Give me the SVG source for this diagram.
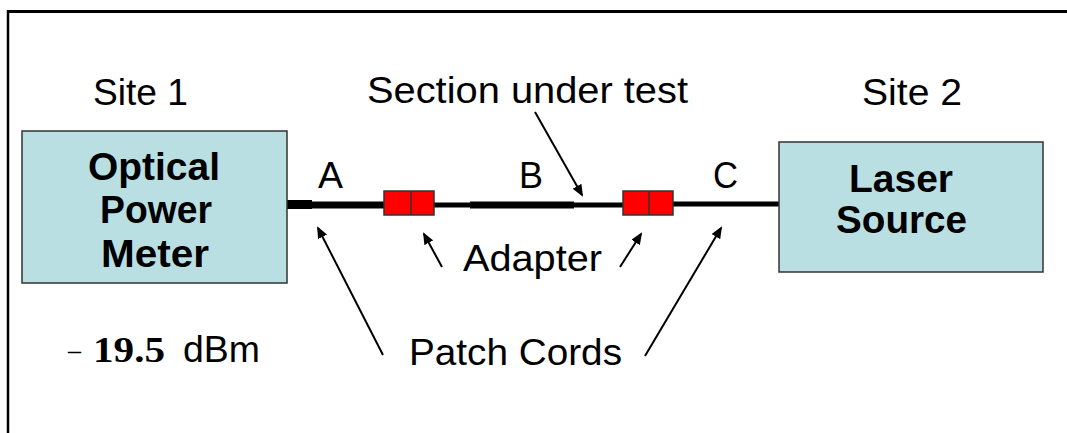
<svg xmlns="http://www.w3.org/2000/svg" width="1067" height="433" viewBox="0 0 1067 433">
<style>
.t{font-family:"Liberation Sans",Arial,sans-serif;font-size:36px;fill:#000}
.b{font-family:"Liberation Sans",Arial,sans-serif;font-size:38px;font-weight:bold;fill:#000}
.box{fill:#BADFE2;stroke:#333;stroke-width:1.5}
.ad{fill:#FF0000;stroke:#333;stroke-width:1.5}
.fib{stroke:#000;fill:none}
.arr{stroke:#000;stroke-width:2;fill:none;marker-end:url(#ah)}
</style>
<defs>
<marker id="ah" markerWidth="12" markerHeight="10" refX="10" refY="5" orient="auto" markerUnits="userSpaceOnUse">
<path d="M0,0 L12,5 L0,10 Z" fill="#000"/>
</marker>
</defs>
<rect width="1067" height="433" fill="#fff"/>
<g id="frame">
<line x1="7" y1="11.5" x2="1067" y2="11.5" stroke="#000" stroke-width="3"/>
<line x1="8" y1="10" x2="8" y2="433" stroke="#000" stroke-width="2.5"/>
</g>
<g id="connectors">
<line class="fib" x1="287" y1="204.5" x2="312" y2="204.5" stroke-width="9"/>
<line class="fib" x1="311" y1="205" x2="385" y2="205" stroke-width="7"/>
<line class="fib" x1="433" y1="205" x2="471" y2="205" stroke-width="5"/>
<line class="fib" x1="470" y1="205" x2="574" y2="205" stroke-width="7"/>
<line class="fib" x1="573" y1="205" x2="624" y2="205" stroke-width="5"/>
<line class="fib" x1="672" y1="204" x2="780" y2="204" stroke-width="5"/>
<line class="arr" x1="535" y1="112" x2="582" y2="195"/>
<line class="arr" x1="442" y1="267" x2="424" y2="234"/>
<line class="arr" x1="620" y1="267" x2="641" y2="234"/>
<line class="arr" x1="383" y1="355" x2="318" y2="228"/>
<line class="arr" x1="645" y1="356" x2="721" y2="228"/>
</g>
<g id="meter">
<rect class="box" x="22" y="131" width="265" height="152"/>
<text class="b" x="154" y="180" text-anchor="middle" textLength="132" lengthAdjust="spacingAndGlyphs">Optical</text>
<text class="b" x="156" y="223" text-anchor="middle" textLength="112" lengthAdjust="spacingAndGlyphs">Power</text>
<text class="b" x="155" y="267" text-anchor="middle" textLength="108" lengthAdjust="spacingAndGlyphs">Meter</text>
</g>
<g id="laser">
<rect class="box" x="779" y="142" width="264" height="130"/>
<text class="b" x="901" y="192" text-anchor="middle" textLength="104" lengthAdjust="spacingAndGlyphs">Laser</text>
<text class="b" x="901.5" y="233" text-anchor="middle" textLength="131" lengthAdjust="spacingAndGlyphs">Source</text>
</g>
<g id="adapter1">
<rect class="ad" x="384" y="191" width="50" height="24"/>
<line x1="411" y1="191" x2="411" y2="215" stroke="#333" stroke-width="1.5"/>
</g>
<g id="adapter2">
<rect class="ad" x="623" y="191" width="50" height="24"/>
<line x1="649" y1="191" x2="649" y2="215" stroke="#333" stroke-width="1.5"/>
</g>
<g id="labels">
<text class="t" x="93" y="105" textLength="95" lengthAdjust="spacingAndGlyphs">Site 1</text>
<text class="t" x="862" y="105" textLength="100" lengthAdjust="spacingAndGlyphs">Site 2</text>
<text class="t" x="367" y="103" textLength="321" lengthAdjust="spacingAndGlyphs">Section under test</text>
<text class="t" x="318" y="188" textLength="25" lengthAdjust="spacingAndGlyphs">A</text>
<text class="t" x="519" y="188" textLength="24" lengthAdjust="spacingAndGlyphs">B</text>
<text class="t" x="713" y="188" textLength="25" lengthAdjust="spacingAndGlyphs">C</text>
<text class="t" x="463" y="271" textLength="139" lengthAdjust="spacingAndGlyphs">Adapter</text>
<text class="t" x="409" y="365" textLength="213" lengthAdjust="spacingAndGlyphs">Patch Cords</text>
<text x="68" y="360" font-family="'Liberation Serif',serif" font-size="30" textLength="13" lengthAdjust="spacingAndGlyphs">–</text>
<text x="93" y="362" font-family="'Liberation Serif',serif" font-size="36" font-weight="bold" textLength="72" lengthAdjust="spacingAndGlyphs">19.5</text>
<text class="t" x="183" y="362" textLength="77" lengthAdjust="spacingAndGlyphs">dBm</text>
</g>
</svg>
